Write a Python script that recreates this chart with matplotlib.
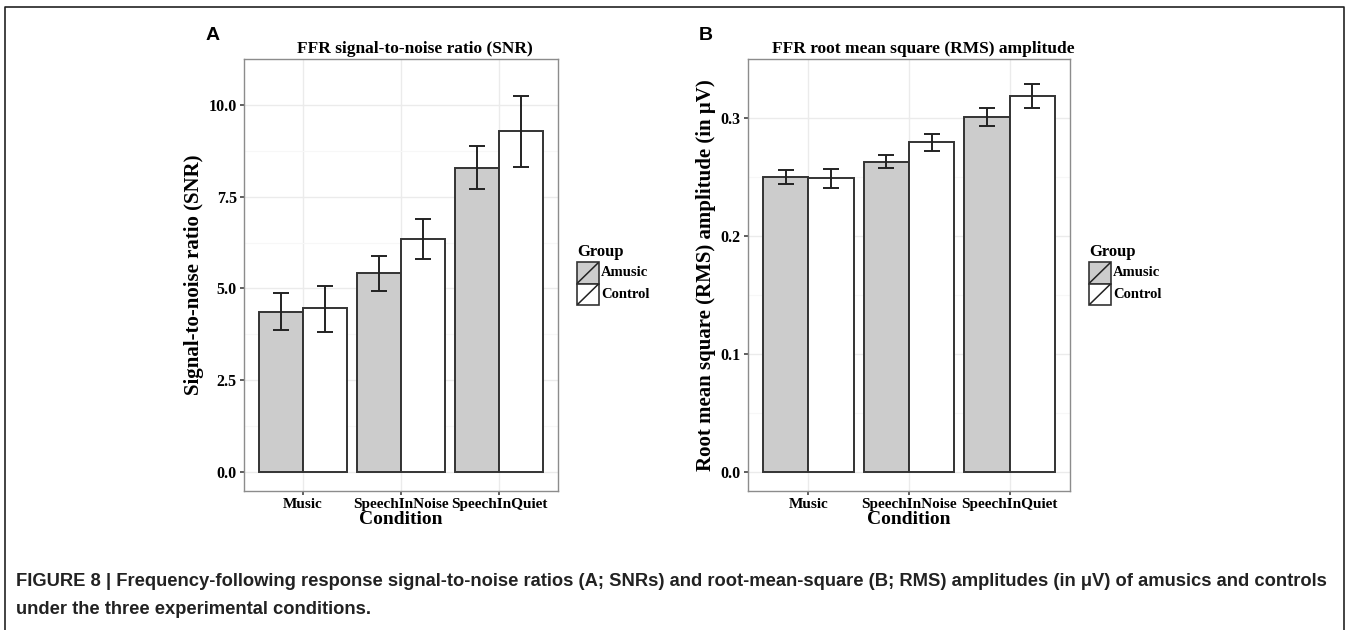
import matplotlib
matplotlib.use('Agg')
import matplotlib.pyplot as plt
from matplotlib.patches import Rectangle
from matplotlib.lines import Line2D

# Data
conditions = ['Music', 'SpeechInNoise', 'SpeechInQuiet']
groups = ['Amusic', 'Control']

snr_amusic = [4.37, 5.41, 8.29]
snr_amusic_lo = [3.88, 4.93, 7.71]
snr_amusic_hi = [4.88, 5.89, 8.87]
snr_control = [4.46, 6.34, 9.28]
snr_control_lo = [3.82, 5.80, 8.32]
snr_control_hi = [5.07, 6.89, 10.24]

rms_amusic = [0.250, 0.263, 0.301]
rms_amusic_lo = [0.244, 0.258, 0.2935]
rms_amusic_hi = [0.2556, 0.269, 0.3088]
rms_control = [0.249, 0.2795, 0.3186]
rms_control_lo = [0.241, 0.2723, 0.3088]
rms_control_hi = [0.257, 0.2865, 0.3286]

snr_ticks = [0.0, 2.5, 5.0, 7.5, 10.0]
snr_ticklabels = ['0.0', '2.5', '5.0', '7.5', '10.0']
rms_ticks = [0.0, 0.1, 0.2, 0.3]
rms_ticklabels = ['0.0', '0.1', '0.2', '0.3']

W, H = 1349, 630
SERIF = 'Liberation Serif'
SANS = 'Liberation Sans'
FILLS = ['#cccccc', 'white']


def px_axes(fig, x0, y0, x1, y1):
    return fig.add_axes([x0 / W, 1 - y1 / H, (x1 - x0) / W, (y1 - y0) / H])


def draw_panel(ax, amusic, a_lo, a_hi, control, c_lo, c_hi, ylim, ticks, ticklabels, ylabel):
    x = list(range(1, len(conditions) + 1))
    series = [(amusic, a_lo, a_hi), (control, c_lo, c_hi)]
    for k, (vals, lo, hi) in enumerate(series):
        xs = [i + (k - 0.5) * 0.45 for i in x]
        ax.bar(xs, vals, width=0.45, color=FILLS[k], edgecolor='#333333',
               linewidth=1.4, zorder=3)
        err = [[v - l for v, l in zip(vals, lo)], [h - v for v, h in zip(vals, hi)]]
        ax.errorbar(xs, vals, yerr=err, fmt='none', ecolor='#222222',
                    elinewidth=1.4, capsize=5.8, capthick=1.4, zorder=4)

    ax.set_xlim(0.4, 3.6)
    ax.set_ylim(*ylim)
    ax.set_xticks(x)
    ax.set_xticklabels(conditions, family=SERIF, weight='bold', fontsize=11)
    ax.set_yticks(ticks)
    ax.set_yticklabels(ticklabels, family=SERIF, weight='bold', fontsize=11.5)
    minor = [(a + b) / 2 for a, b in zip(ticks[:-1], ticks[1:])]
    minor = minor + [ticks[-1] + (ticks[1] - ticks[0]) / 2]
    ax.set_yticks(minor, minor=True)
    ax.tick_params(which='minor', length=0)
    ax.tick_params(which='major', direction='out', length=3.2, width=1.1,
                   color='#333333', pad=2)
    ax.grid(True, which='major', color='#ebebeb', linewidth=1.0, zorder=0)
    ax.grid(True, which='minor', axis='y', color='#f7f7f7', linewidth=0.8, zorder=0)
    ax.set_axisbelow(True)
    for s in ax.spines.values():
        s.set_color('#8c8c8c')
        s.set_linewidth(1.0)
    ax.set_xlabel('Condition', family=SERIF, weight='bold', fontsize=14, labelpad=0)
    ax.set_ylabel(ylabel, family=SERIF, weight='bold', fontsize=15, labelpad=3)


def draw_legend(fig, x, y):
    fig.text(x / W, 1 - y / H, 'Group', family=SERIF, weight='bold', fontsize=12,
             ha='left', va='center')
    for k, g in enumerate(groups):
        top = y + 10 + k * 21.5
        r = Rectangle((x / W, 1 - (top + 21.5) / H), 22 / W, 21.5 / H,
                      transform=fig.transFigure, facecolor=FILLS[k],
                      edgecolor='#333333', linewidth=1.2)
        fig.add_artist(r)
        fig.add_artist(Line2D([(x + 1) / W, (x + 21) / W],
                              [1 - (top + 20.5) / H, 1 - (top + 1) / H],
                              transform=fig.transFigure, color='#222222', linewidth=1.1))
        fig.text((x + 24) / W, 1 - (top + 11) / H, g, family=SERIF, weight='bold',
                 fontsize=10.5, ha='left', va='center')


fig = plt.figure(figsize=(W / 100, H / 100), dpi=100)

# outer frame
fig.add_artist(Line2D([5 / W, 5 / W, 1344 / W, 1344 / W], [0, 1 - 7 / H, 1 - 7 / H, 0],
                      transform=fig.transFigure, color='#222222', linewidth=1.2))

ax1 = px_axes(fig, 244, 59, 558, 491)
draw_panel(ax1, snr_amusic, snr_amusic_lo, snr_amusic_hi,
           snr_control, snr_control_lo, snr_control_hi,
           (-0.52, 10.73), snr_ticks, snr_ticklabels, 'Signal-to-noise ratio (SNR)')

ax2 = px_axes(fig, 748, 59, 1070, 491)
draw_panel(ax2, rms_amusic, rms_amusic_lo, rms_amusic_hi,
           rms_control, rms_control_lo, rms_control_hi,
           (-0.0159, 0.3452), rms_ticks, rms_ticklabels,
           'Root mean square (RMS) amplitude (in \u03bcV)')

fig.text(415 / W, 1 - 49 / H, 'FFR signal-to-noise ratio (SNR)', family=SERIF,
         weight='bold', fontsize=12.5, ha='center', va='center')
fig.text(923 / W, 1 - 49 / H, 'FFR root mean square (RMS) amplitude', family=SERIF,
         weight='bold', fontsize=12.5, ha='center', va='center')

fig.text(213 / W, 1 - 36 / H, 'A', family=SANS, weight='bold', fontsize=14,
         ha='center', va='center')
fig.text(706 / W, 1 - 36 / H, 'B', family=SANS, weight='bold', fontsize=14,
         ha='center', va='center')

draw_legend(fig, 577, 252)
draw_legend(fig, 1089, 252)

fig.text(16 / W, 1 - 582 / H,
         'FIGURE 8 | Frequency-following response signal-to-noise ratios (A; SNRs) and '
         'root-mean-square (B; RMS) amplitudes (in \u03bcV) of amusics and controls',
         family=SANS, weight='bold', fontsize=13.2, ha='left', va='center', color='#222222')
fig.text(16 / W, 1 - 609 / H, 'under the three experimental conditions.',
         family=SANS, weight='bold', fontsize=13.2, ha='left', va='center', color='#222222')

fig.savefig('out.png', dpi=100)
